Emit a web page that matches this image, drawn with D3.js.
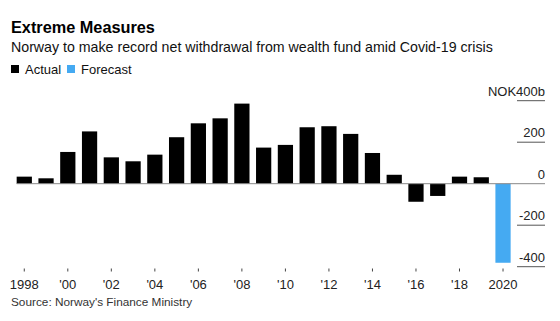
<!DOCTYPE html>
<html>
<head>
<meta charset="utf-8">
<script src="https://cdn.jsdelivr.net/npm/d3@7"></script>
<style>
  body { margin: 0; background: #fff; }
  svg { font-family: "Liberation Sans", Arial, sans-serif; }
</style>
</head>
<body>
<div id="chart"></div>
<script>
// Net withdrawal / transfer, NOK billions
const years = d3.range(1998, 2021);
const actualValues = [34, 26, 153, 252, 127, 108, 140, 224, 291, 315, 386, 174, 187,
                      272, 277, 240, 148, 43, -87, -59, 34, 31, null];
const forecastValues = [null, null, null, null, null, null, null, null, null, null, null, null, null,
                        null, null, null, null, null, null, null, null, null, -381];
const yTicks = [-400, -200, 0, 200, 400];
const xTickYears = [1998, 2000, 2002, 2004, 2006, 2008, 2010, 2012, 2014, 2016, 2018, 2020];

const width = 560, height = 321;

const svg = d3.select("#chart")
    .append("svg")
    .attr("width", width)
    .attr("height", height);

// Title block
svg.append("text")
    .attr("x", 11).attr("y", 33)
    .style("font-size", "16.3px").style("font-weight", "bold")
    .attr("fill", "#000")
    .text("Extreme Measures");

svg.append("text")
    .attr("x", 11).attr("y", 52)
    .style("font-size", "14.2px")
    .attr("fill", "#111")
    .text("Norway to make record net withdrawal from wealth fund amid Covid-19 crisis");

// Legend
const legend = [
    { label: "Actual", color: "#000", x: 11 },
    { label: "Forecast", color: "#45aaf2", x: 67 }
];
const lg = svg.append("g");
lg.selectAll("rect")
    .data(legend)
    .enter().append("rect")
    .attr("x", d => d.x).attr("y", 65)
    .attr("width", 8).attr("height", 8)
    .attr("fill", d => d.color);
lg.selectAll("text")
    .data(legend)
    .enter().append("text")
    .attr("x", d => d.x + 14).attr("y", 73.5)
    .style("font-size", "13px")
    .attr("fill", "#111")
    .text(d => d.label);

// Scales
const xScale = d3.scaleBand()
    .domain(years)
    .range([13.4, 513.9])
    .paddingInner(0.3)
    .paddingOuter(0.15);

const yScale = d3.scaleLinear()
    .domain([-400, 400])
    .range([266.7, 100.7]);

// Right axis: short tick lines with labels above
const axisRight = svg.append("g");
axisRight.selectAll("line")
    .data(yTicks.filter(d => d !== 0))
    .enter().append("line")
    .attr("x1", 517).attr("x2", 545)
    .attr("y1", d => yScale(d)).attr("y2", d => yScale(d))
    .attr("stroke", "#555")
    .attr("stroke-width", 1);
axisRight.selectAll("text")
    .data(yTicks)
    .enter().append("text")
    .attr("x", 545)
    .attr("y", d => yScale(d) - 5)
    .attr("text-anchor", "end")
    .style("font-size", "13px")
    .attr("fill", "#222")
    .text(d => d === 400 ? "NOK400b" : d);

// Bars
svg.selectAll(".bar")
    .data(years.map((y, i) => ({ year: y, value: actualValues[i] })).filter(d => d.value !== null))
    .enter().append("rect")
    .attr("class", "bar")
    .attr("x", d => xScale(d.year))
    .attr("width", xScale.bandwidth())
    .attr("y", d => yScale(Math.max(0, d.value)))
    .attr("height", d => Math.abs(yScale(d.value) - yScale(0)))
    .attr("fill", "#000");

svg.selectAll(".forecast")
    .data(years.map((y, i) => ({ year: y, value: forecastValues[i] })).filter(d => d.value !== null))
    .enter().append("rect")
    .attr("class", "forecast")
    .attr("x", d => xScale(d.year))
    .attr("width", xScale.bandwidth())
    .attr("y", d => yScale(Math.max(0, d.value)))
    .attr("height", d => Math.abs(yScale(d.value) - yScale(0)))
    .attr("fill", "#45aaf2");

// Zero line
svg.append("line")
    .attr("x1", 16.7).attr("x2", 545)
    .attr("y1", yScale(0)).attr("y2", yScale(0))
    .attr("stroke", "#888")
    .attr("stroke-width", 1);

// X axis
const xAxis = d3.axisBottom(xScale)
    .tickValues(xTickYears)
    .tickSize(3)
    .tickPadding(8)
    .tickFormat(d => (d === 1998 || d === 2020) ? String(d) : "'" + String(d).slice(2));

const gx = svg.append("g")
    .attr("transform", "translate(0,268.5)")
    .call(xAxis);
gx.select(".domain").remove();
gx.selectAll("line").attr("stroke", "#444");
gx.selectAll("text")
    .style("font-size", "13px")
    .style("font-family", "Liberation Sans, Arial, sans-serif")
    .attr("fill", "#222");

// Source
svg.append("text")
    .attr("x", 11).attr("y", 306)
    .style("font-size", "11.8px")
    .attr("fill", "#333")
    .text("Source: Norway's Finance Ministry");
</script>
</body>
</html>
